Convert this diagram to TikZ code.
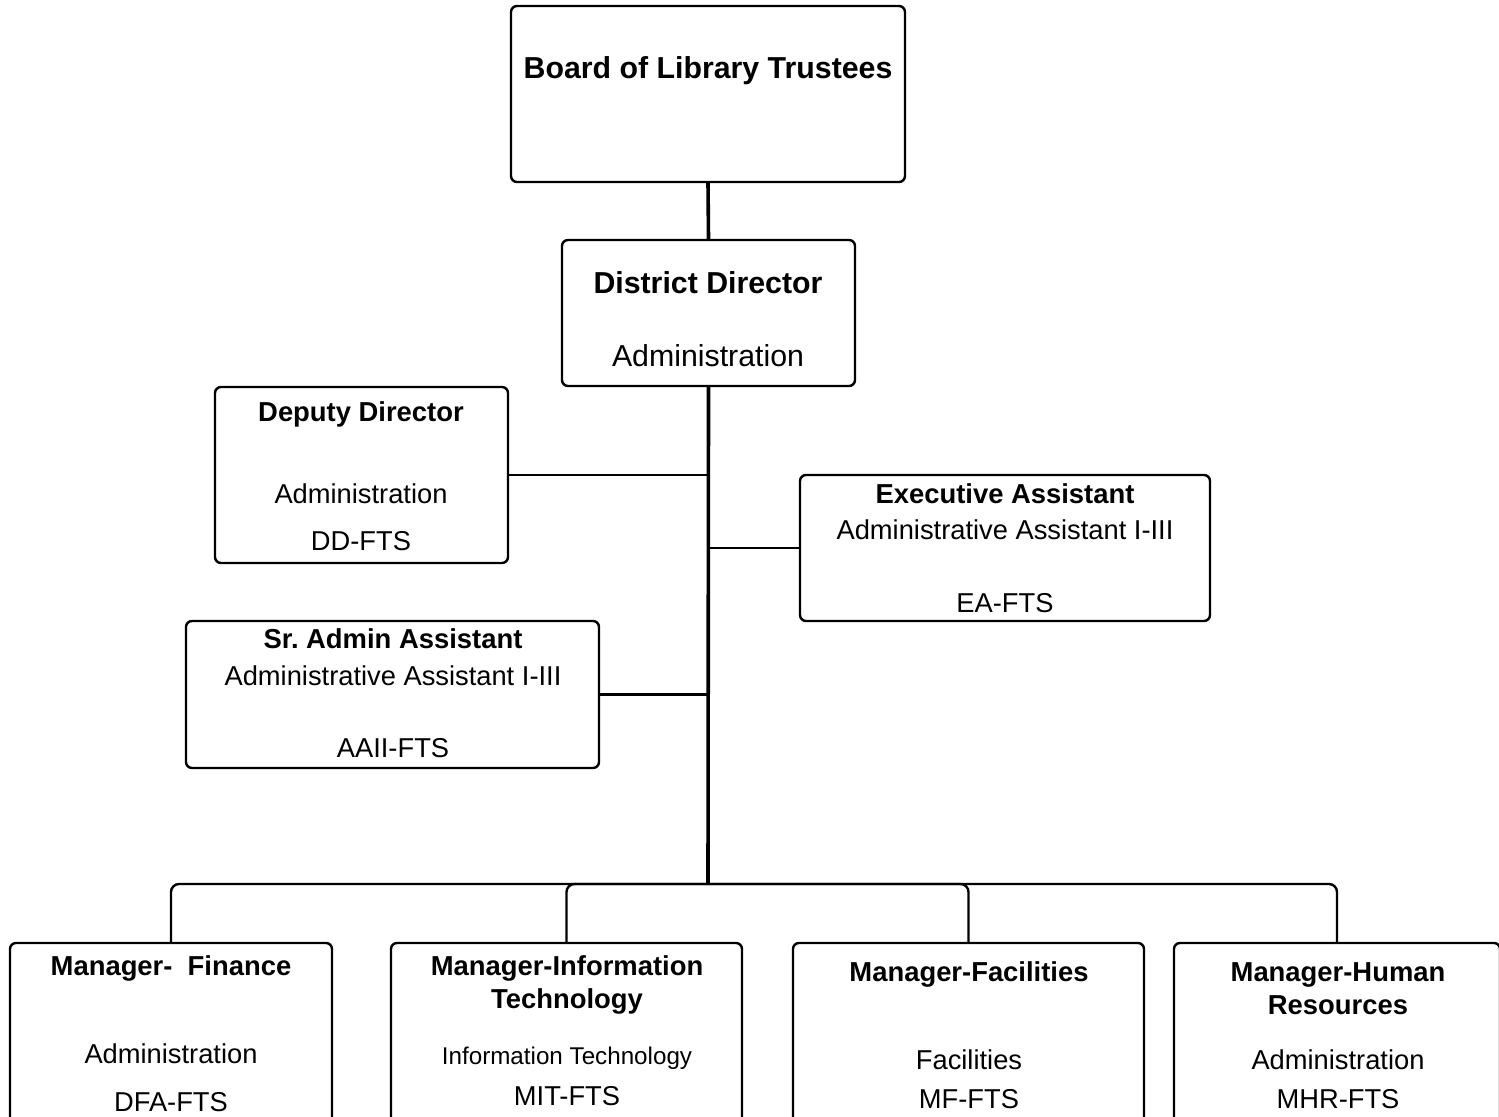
\documentclass[tikz,border=0pt]{standalone}
\usepackage{fontspec}
\setmainfont{Liberation Sans}

\begin{document}
\begin{tikzpicture}[x=0.5pt,y=-0.5pt,
        box/.style={draw=black,line width=1.2pt,rounded corners=3pt,inner sep=0pt},
        link/.style={draw=black,line width=1.2pt},
        trunk/.style={draw=black,line width=1.8pt},
        bigtitle/.style={anchor=base,font=\bfseries\fontsize{15.15}{18}\selectfont},
        title/.style={anchor=base,font=\bfseries\fontsize{13.7}{16}\selectfont},
        bigtxt/.style={anchor=base,font=\fontsize{15.15}{18}\selectfont},
        txt/.style={anchor=base,font=\fontsize{13.65}{16}\selectfont},
        smalltxt/.style={anchor=base,font=\fontsize{12.1}{14}\selectfont}]
        \useasboundingbox (0,0) rectangle (1499,1117);
        \clip (0,0) rectangle (1499,1117);

        % boxes
        \node[box,minimum width=197pt,minimum height=88pt]   (board) at (708,94) {};
        \node[box,minimum width=146.5pt,minimum height=73pt] (dd)    at (708.5,313) {};
        \node[box,minimum width=146.5pt,minimum height=88pt] (dep)   at (361.5,475) {};
        \node[box,minimum width=205pt,minimum height=73pt]   (ea)    at (1005,548) {};
        \node[box,minimum width=206.5pt,minimum height=73.5pt] (sa)  at (392.5,694.5) {};
        \node[box,minimum width=161pt,minimum height=92pt]   (fin)   at (171,1035) {};
        \node[box,minimum width=175.5pt,minimum height=92pt] (mit)   at (566.5,1035) {};
        \node[box,minimum width=175.5pt,minimum height=92pt] (mf)    at (968.5,1035) {};
        \node[box,minimum width=163pt,minimum height=92pt]   (mhr)   at (1337,1035) {};

        % texts
        \node[bigtitle] (boardT) at (708,79) {Board of Library Trustees};
        \node[bigtitle] (ddT) at (708,294) {District Director};
        \node[bigtxt]   (ddA) at (708,367) {Administration};
        \node[title] (depT) at (361,422) {Deputy Director};
        \node[txt]   (depA) at (361,503) {Administration};
        \node[txt]   (depC) at (361,550) {DD-FTS};
        \node[title] (eaT) at (1005,503) {Executive Assistant};
        \node[txt]   (eaA) at (1005,539) {Administrative Assistant I-III};
        \node[txt]   (eaC) at (1005,612) {EA-FTS};
        \node[title] (saT) at (393,648) {Sr.\ Admin Assistant};
        \node[txt]   (saA) at (393,685) {Administrative Assistant I-III};
        \node[txt]   (saC) at (393,757) {AAII-FTS};
        \node[title] (finT) at (171,975) {Manager-~ Finance};
        \node[txt]   (finA) at (171,1063) {Administration};
        \node[txt]   (finC) at (171,1111) {DFA-FTS};
        \node[title] (mitT) at (567,975) {Manager-Information};
        \node[title] (mitU) at (567,1008) {Technology};
        \node[smalltxt] (mitA) at (567,1064) {Information Technology};
        \node[txt]   (mitC) at (567,1105) {MIT-FTS};
        \node[title] (mfT) at (969,981) {Manager-Facilities};
        \node[txt]   (mfA) at (969,1069) {Facilities};
        \node[txt]   (mfC) at (969,1108) {MF-FTS};
        \node[title] (mhrT) at (1338,981) {Manager-Human};
        \node[title] (mhrU) at (1338,1014) {Resources};
        \node[txt]   (mhrA) at (1338,1069) {Administration};
        \node[txt]   (mhrC) at (1338,1108) {MHR-FTS};

        % connectors
        \coordinate (bus) at (708,884);
        \draw[trunk] (board.south) -- (dd.north);
        \draw[trunk] (dd.south) -- (bus);
        \draw[link] (dep.east) -- (dep.east -| bus);
        \draw[link] (ea.west) -- (ea.west -| bus);
        \draw[link] (sa.east) -- (sa.east -| bus);
        \draw[link,rounded corners=4pt] (bus) -| (fin.north);
        \draw[link,rounded corners=4pt] (bus) -| (mit.north);
        \draw[link,rounded corners=4pt] (bus) -| (mf.north);
        \draw[link,rounded corners=4pt] (bus) -| (mhr.north);
    \end{tikzpicture}
\end{document}
